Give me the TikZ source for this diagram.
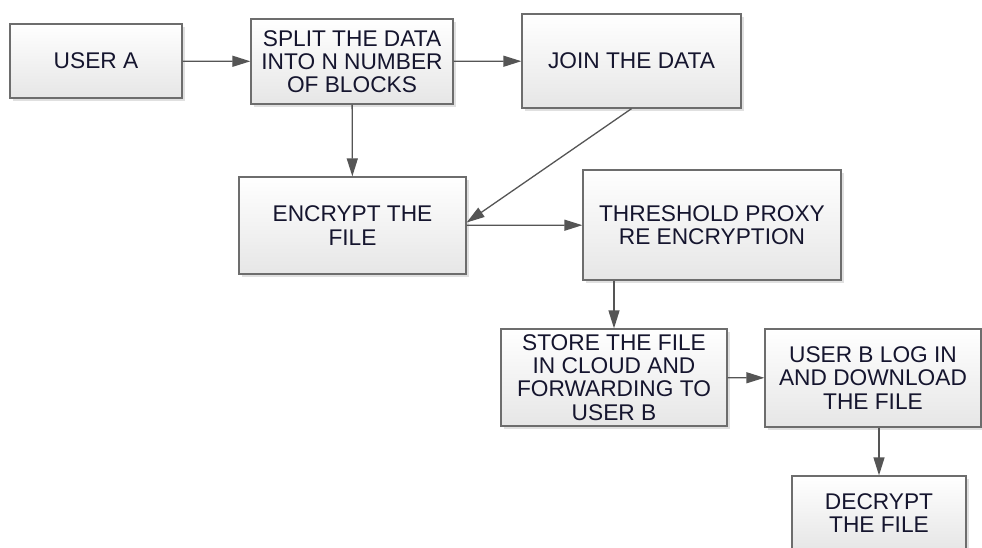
\documentclass[tikz,border=0pt]{standalone}
\usepackage{fontspec}
\setmainfont{Liberation Sans}
\usetikzlibrary{arrows.meta,shadows,calc}
\definecolor{boxline}{HTML}{6D6D6D}
\definecolor{boxbot}{HTML}{E6E6E6}
\definecolor{txt}{HTML}{15152E}
\definecolor{arr}{HTML}{555555}
\begin{document}
\begin{tikzpicture}[x=1pt,y=-1pt,
  box/.style={draw=boxline, line width=1.3pt, top color=white, bottom color=boxbot,
    align=center, inner sep=0pt, text=txt, font=\fontsize{22.7}{23.3}\selectfont,
    drop shadow={shadow xshift=2.5pt, shadow yshift=-2.5pt, fill=black, opacity=0.12}},
  conn/.style={draw=arr, line width=1.3pt, -{Triangle[length=18pt,width=11pt]}}]
\useasboundingbox (0,0) rectangle (982,547);
\node[box, minimum width=172pt, minimum height=74pt] (usera) at (96,61) {USER A};
\node[box, minimum width=202pt, minimum height=85pt] (split) at (352,61.5) {SPLIT THE DATA\\INTO N NUMBER\\OF BLOCKS};
\node[box, minimum width=219pt, minimum height=94pt] (join) at (631.5,61) {JOIN THE DATA};
\node[box, minimum width=227pt, minimum height=97pt] (enc) at (352.5,225.5) {ENCRYPT THE\\FILE};
\node[box, minimum width=258pt, minimum height=110pt] (thr) at (712,225) {THRESHOLD PROXY\\RE ENCRYPTION};
\node[box, minimum width=226pt, minimum height=97pt] (store) at (614,377.5) {STORE THE FILE\\IN CLOUD AND\\FORWARDING TO\\USER B};
\node[box, minimum width=216pt, minimum height=98pt] (userb) at (873,378) {USER B LOG IN\\AND DOWNLOAD\\THE FILE};
\node[box, minimum width=174pt, minimum height=74pt] (dec) at (879,513) {DECRYPT\\THE FILE};
\draw[conn] (usera) -- (split);
\draw[conn] (split) -- (join);
\draw[conn] (split) -- (enc);
\draw[conn] (join.south) -- ($(enc.east)+(0,-3)$);
\draw[conn] (enc) -- (thr);
\draw[conn] (store.north |- thr.south) -- (store);
\draw[conn] (store) -- (userb);
\draw[conn] (dec.north |- userb.south) -- (dec);
\end{tikzpicture}
\end{document}
